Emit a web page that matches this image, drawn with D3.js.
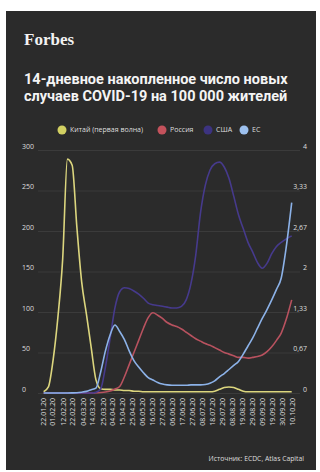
<!DOCTYPE html>
<html>
<head>
<meta charset="utf-8">
<script src="https://cdn.jsdelivr.net/npm/d3@7"></script>
<style>
  body { margin: 0; background: #fff; }
  text { font-family: "Open Sans", "DejaVu Sans", sans-serif; }
</style>
</head>
<body>
<div id="chart"></div>
<script>
// 5-day grid of observation dates
var dates = ["2020-01-23","2020-01-28","2020-02-02","2020-02-07","2020-02-12","2020-02-17","2020-02-22","2020-02-27",
  "2020-03-03","2020-03-08","2020-03-13","2020-03-18","2020-03-23","2020-03-28","2020-04-02","2020-04-07","2020-04-12",
  "2020-04-17","2020-04-22","2020-04-27","2020-05-02","2020-05-07","2020-05-12","2020-05-17","2020-05-22","2020-05-27",
  "2020-06-01","2020-06-06","2020-06-11","2020-06-16","2020-06-21","2020-06-26","2020-07-01","2020-07-06","2020-07-11",
  "2020-07-16","2020-07-21","2020-07-26","2020-07-31","2020-08-05","2020-08-10","2020-08-15","2020-08-20","2020-08-25",
  "2020-08-30","2020-09-04","2020-09-09","2020-09-14","2020-09-19","2020-09-24","2020-09-29","2020-10-04","2020-10-10"];

// China is on the right axis (0-4), others on the left (0-300)
var china = [0.02,0.1,0.55,1.25,2.2,3.85,3.75,2.72,1.83,1.3,0.75,0.22,0.07,0.06,0.06,0.05,0.05,0.04,0.04,0.03,
  0.03,0.02,0.02,0.02,0.02,0.02,0.02,0.02,0.02,0.02,0.02,0.02,0.02,0.02,0.02,0.02,0.03,0.06,0.09,0.1,
  0.09,0.06,0.03,0.02,0.02,0.02,0.02,0.02,0.02,0.02,0.02,0.02,0.02];
var russia = [0,0,0,0,0,0,0,0,0,0,0,0.3,0.6,1.2,2.5,5,8,20,35,50,
  65,80,93,99,96,92,87,84,82,79,75,71,67,64,61,59,56,53,50,48,
  46,44,44,43,44,45,47,51,57,65,74,90,115];
var usa = [0,0,0,0,0,0,0,0,0,0,0,1,5,32,68,105,125,130,129,126,
  122,117,111,109,108,107,106,105,105,107,115,135,170,222,256,275,283,285,279,265,
  243,220,203,186,174,161,154,160,172,181,186,190,194];
var eu = [0,0,0,0,0,0,0.1,0.3,1,2,4,6,26,52,72,84,76,66,52,40,
  32,25,19,16,13,11,10,9.5,9.5,9.5,9.5,10,10,10,10.5,12,15,20,24,29,
  34,39,48,58,68,80,92,103,115,128,142,178,235];

var labelDates = ["2020-01-22","2020-02-01","2020-02-12","2020-02-22","2020-03-04","2020-03-14","2020-03-25",
  "2020-04-04","2020-04-15","2020-04-25","2020-05-06","2020-05-16","2020-05-27","2020-06-06","2020-06-17",
  "2020-06-27","2020-07-08","2020-07-18","2020-07-29","2020-08-08","2020-08-19","2020-08-29","2020-09-09",
  "2020-09-19","2020-09-30","2020-10-10"];
var leftTicks = [0, 50, 100, 150, 200, 250, 300];
var rightTicks = [0, 0.67, 1.33, 2, 2.67, 3.33, 4];

var seriesNames = ["Китай (первая волна)", "Россия", "США", "ЕС"];
var lineColors = ["#dcd67e", "#b8525f", "#463a8c", "#8cb2e8"];
var dotColors = ["#d2d062", "#c4525c", "#3c3380", "#9cc0ee"];

var width = 320;
var height = 472;
var parse = d3.timeParse("%Y-%m-%d");

var svg = d3.select("#chart").append("svg")
  .attr("width", width)
  .attr("height", height);

svg.append("rect")
  .attr("x", 6).attr("y", 11)
  .attr("width", 310).attr("height", 459)
  .attr("fill", "#2b2b2b");

// header
svg.append("text")
  .attr("x", 24).attr("y", 45)
  .style("font-family", "'Liberation Serif', serif")
  .style("font-weight", "bold")
  .style("font-size", "17px")
  .attr("fill", "#f2f2f2")
  .text("Forbes");

var title = ["14-дневное накопленное число новых", "случаев COVID-19 на 100 000 жителей"];
svg.selectAll(".title").data(title).enter().append("text")
  .attr("class", "title")
  .attr("x", 24)
  .attr("y", function(d, i) { return 84 + i * 17; })
  .style("font-family", "Roboto, sans-serif")
  .style("font-size", "14.5px")
  .style("font-weight", "bold")
  .attr("fill", "#f4f4f4")
  .text(function(d) { return d; });

// legend
var legendX = [62, 162, 208, 244];
var legend = svg.selectAll(".legend").data(seriesNames).enter().append("g")
  .attr("class", "legend")
  .attr("transform", function(d, i) { return "translate(" + legendX[i] + ",130)"; });
legend.append("circle")
  .attr("r", 4.5)
  .attr("fill", function(d, i) { return dotColors[i]; });
legend.append("text")
  .attr("x", 8)
  .attr("dy", "0.35em")
  .style("font-size", "7px")
  .attr("fill", "#dedede")
  .text(function(d) { return d; });

// scales
var x = d3.scaleTime()
  .domain([parse("2020-01-22"), parse("2020-10-10")])
  .range([42.7, 291.7]);
var yLeft = d3.scaleLinear().domain([0, 300]).range([393, 150]);
var yRight = d3.scaleLinear().domain([0, 4]).range([393, 150]);

// grid + left axis
var leftAxis = svg.append("g")
  .attr("transform", "translate(38,0)")
  .call(d3.axisLeft(yLeft).tickValues(leftTicks).tickSize(-262).tickPadding(0));
leftAxis.select(".domain").remove();
leftAxis.selectAll("line").attr("stroke", "#3b3b3b");
leftAxis.selectAll("text")
  .attr("x", -16).attr("dy", "-0.25em")
  .style("text-anchor", "start")
  .style("font-size", "7px")
  .attr("fill", "#dedede");

var rightAxis = svg.append("g")
  .attr("transform", "translate(307,0)")
  .call(d3.axisRight(yRight).tickValues(rightTicks).tickSize(0).tickPadding(0)
    .tickFormat(function(d) { return String(d).replace(".", ","); }));
rightAxis.select(".domain").remove();
rightAxis.selectAll("text")
  .attr("dy", "-0.25em")
  .style("text-anchor", "end")
  .style("font-size", "7px")
  .attr("fill", "#dedede");

// x axis with vertical date labels
var xAxis = svg.append("g")
  .attr("transform", "translate(0,398)")
  .call(d3.axisBottom(x).tickValues(labelDates.map(parse)).tickSize(0)
    .tickFormat(d3.timeFormat("%d.%m.%y")));
xAxis.select(".domain").remove();
xAxis.selectAll("text")
  .attr("x", 0).attr("y", 0)
  .attr("dy", "0.35em")
  .attr("transform", "rotate(-90)")
  .style("text-anchor", "end")
  .style("font-size", "7px")
  .attr("fill", "#dedede");

// lines
var allSeries = [china, russia, usa, eu];
allSeries.forEach(function(values, i) {
  var yScale = i === 0 ? yRight : yLeft;
  var line = d3.line()
    .x(function(d, j) { return x(parse(dates[j])); })
    .y(function(d) { return yScale(d); })
    .curve(d3.curveMonotoneX);
  svg.append("path")
    .datum(values)
    .attr("d", line)
    .attr("fill", "none")
    .attr("stroke", lineColors[i])
    .attr("stroke-width", 1.6);
});

// source
svg.append("text")
  .attr("x", 304).attr("y", 461)
  .style("text-anchor", "end")
  .style("font-size", "6.8px")
  .attr("fill", "#dedede")
  .text("Источник: ECDC, Atlas Capital");
</script>
</body>
</html>
